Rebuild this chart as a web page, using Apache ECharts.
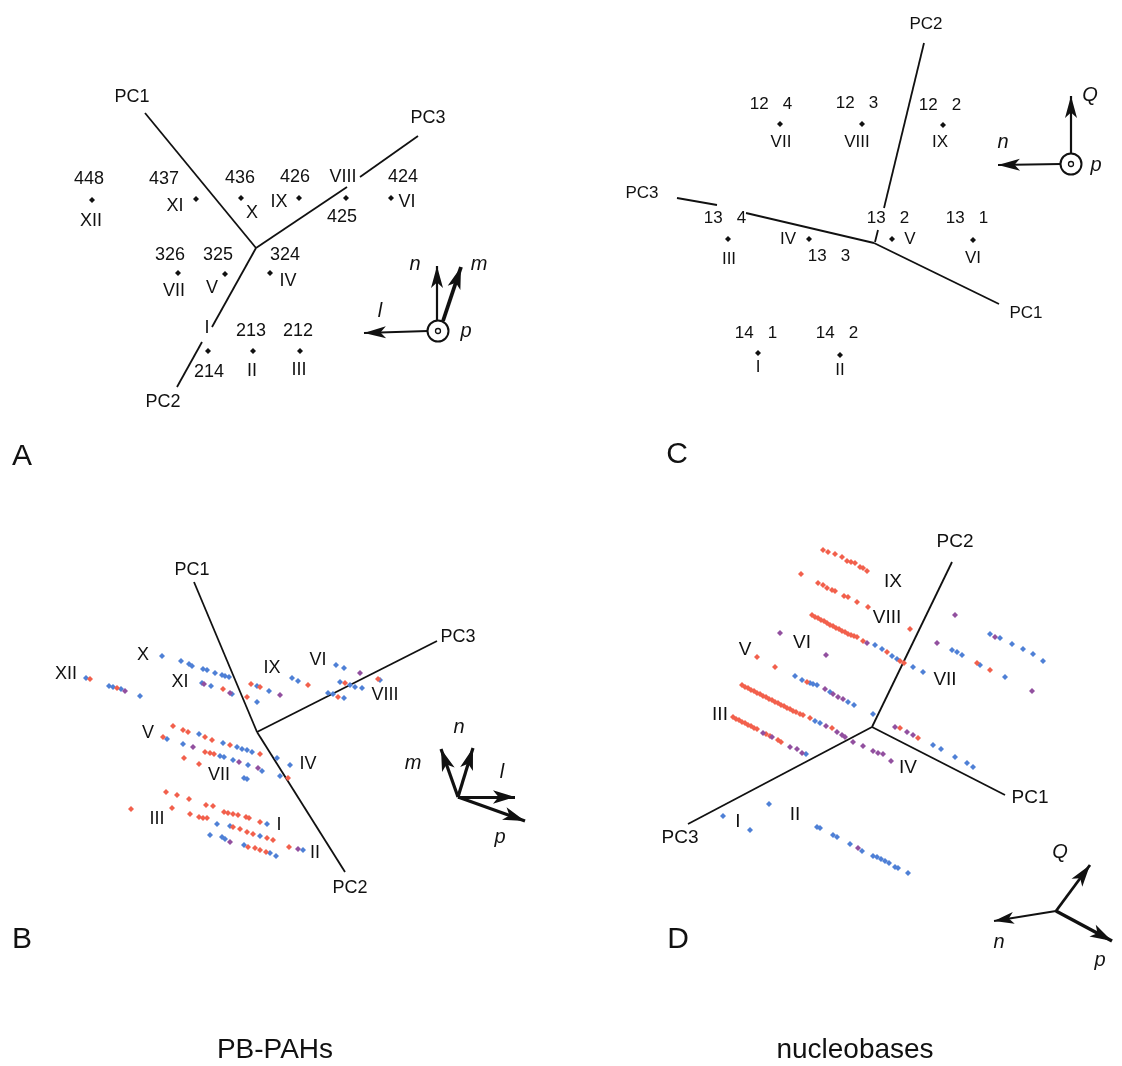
<!DOCTYPE html>
<html>
<head>
<meta charset="utf-8">
<script src="https://cdn.jsdelivr.net/npm/echarts@6/dist/echarts.min.js"></script>
<style>
  html, body { margin: 0; padding: 0; background: #fff; }
  #chart { width: 1122px; height: 1066px; }
</style>
</head>
<body>
<div id="chart"></div>
<script>
// ---------- Panel A: PB-PAH structures projected on PC1/PC2/PC3 ----------
const aAxes = [
  [[145, 113], [256, 248]],                         // PC1
  [[256, 248], [347, 187]], [[360, 177], [418, 136]], // PC3 (broken under VIII)
  [[256, 248], [212, 327]], [[202, 342], [177, 387]]  // PC2 (broken at I)
];
const aPoints = [
  [92, 200], [196, 199], [241, 198], [299, 198], [346, 198], [391, 198],
  [178, 273], [225, 274], [270, 273],
  [208, 351], [253, 351], [300, 351]
];
const aLabels = [
  [132, 97, 'PC1'], [428, 118, 'PC3'], [163, 402, 'PC2'],
  [89, 179, '448'], [91, 221, 'XII'],
  [164, 179, '437'], [175, 206, 'XI'],
  [240, 178, '436'], [252, 213, 'X'],
  [295, 177, '426'], [279, 202, 'IX'],
  [343, 177, 'VIII'], [342, 217, '425'],
  [403, 177, '424'], [407, 202, 'VI'],
  [170, 255, '326'], [174, 291, 'VII'],
  [218, 255, '325'], [212, 288, 'V'],
  [285, 255, '324'], [288, 281, 'IV'],
  [207, 328, 'I'], [209, 372, '214'],
  [251, 331, '213'], [252, 371, 'II'],
  [298, 331, '212'], [299, 370, 'III']
];
const aArrowsThin = [
  [[428, 331], [364, 333]],   // l
  [[437, 321], [437, 266]]    // n
];
const aArrowsBold = [
  [[443, 321], [461, 267]]    // m
];
const aAxisLabels = [[415, 264, 'n'], [479, 264, 'm'], [380, 311, 'l'], [466, 331, 'p']];
const aOrigin = [[438, 331]];

// ---------- Panel C: nucleobase structures ----------
const cAxes = [
  [[924, 43], [884, 208]], [[878, 230], [875, 242]], // PC2
  [[677, 198], [717, 205]], [[746, 213], [874, 243]], // PC3
  [[874, 243], [999, 304]]                            // PC1
];
const cPoints = [
  [780, 124], [862, 124], [943, 125],
  [728, 239], [809, 239], [892, 239], [973, 240],
  [758, 353], [840, 355]
];
const cLabels = [
  [926, 24, 'PC2'], [642, 193, 'PC3'], [1026, 313, 'PC1'],
  [771, 104, '12   4'], [781, 142, 'VII'],
  [857, 103, '12   3'], [857, 142, 'VIII'],
  [940, 105, '12   2'], [940, 142, 'IX'],
  [725, 218, '13   4'], [729, 259, 'III'],
  [788, 239, 'IV'], [829, 256, '13   3'],
  [888, 218, '13   2'], [910, 239, 'V'],
  [967, 218, '13   1'], [973, 258, 'VI'],
  [756, 333, '14   1'], [758, 367, 'I'],
  [837, 333, '14   2'], [840, 370, 'II']
];
const cArrows = [
  [[1071, 154], [1071, 96]],  // Q
  [[1061, 164], [998, 165]]   // n
];
const cAxisLabels = [[1090, 95, 'Q'], [1003, 142, 'n'], [1096, 165, 'p']];
const cOrigin = [[1071, 164]];

// ---------- Panel B: PB-PAH conformers ----------
const bAxes = [
  [[194, 582], [257, 732]], // PC1
  [[257, 732], [437, 641]], // PC3
  [[257, 732], [345, 872]]  // PC2
];
const bBlue = [
  [86, 678], [109, 686], [113, 687], [121, 689], [140, 696],
  [162, 656], [181, 661], [189, 664], [192, 666], [203, 669], [207, 670], [215, 673], [222, 675], [225, 676], [229, 677], [257, 686], [269, 691],
  [202, 683], [211, 686], [232, 694], [257, 702],
  [292, 678], [298, 681], [336, 665], [344, 668], [340, 682], [350, 685], [355, 687], [362, 688], [380, 680], [328, 693], [333, 694], [344, 698],
  [199, 734], [223, 743], [237, 747], [242, 749], [247, 750], [252, 752],
  [167, 739], [183, 744], [220, 756], [224, 757], [233, 760], [248, 765], [262, 771], [277, 758], [290, 765], [280, 776],
  [244, 778], [247, 779],
  [267, 824], [217, 824], [230, 826], [260, 836], [210, 835], [222, 837], [225, 839], [244, 845], [270, 853], [276, 856], [303, 850]
];
const bRed = [
  [90, 679], [117, 688], [251, 684], [260, 687], [223, 689], [247, 697], [308, 685], [345, 683], [378, 679], [338, 697],
  [173, 726], [183, 730], [188, 732], [205, 737], [212, 740], [230, 745], [260, 754],
  [163, 737], [205, 752], [210, 753], [214, 754], [288, 778],
  [184, 758], [199, 764],
  [166, 792], [177, 795], [189, 799], [206, 805], [213, 806], [224, 812], [228, 813], [233, 814], [238, 815], [246, 817], [249, 818], [260, 822],
  [131, 809], [172, 808], [190, 814], [199, 817], [203, 818], [207, 818], [233, 827], [240, 829], [247, 832], [253, 834], [267, 838], [273, 840],
  [248, 847], [255, 848], [260, 850], [266, 852], [289, 847]
];
const bPurple = [
  [125, 691], [280, 695], [204, 684], [230, 693], [360, 673], [193, 747], [239, 762], [258, 768], [230, 842], [298, 849]
];
const bLabels = [
  [192, 570, 'PC1'], [458, 637, 'PC3'], [350, 888, 'PC2'],
  [66, 674, 'XII'], [143, 655, 'X'], [180, 682, 'XI'], [272, 668, 'IX'], [318, 660, 'VI'], [385, 695, 'VIII'],
  [148, 733, 'V'], [219, 775, 'VII'], [308, 764, 'IV'],
  [157, 819, 'III'], [279, 825, 'I'], [315, 853, 'II']
];
const bArrows = [
  [[458, 797], [441, 749]], // m
  [[458, 797], [473, 748]], // n
  [[458, 797], [515, 797]], // l
  [[458, 797], [525, 821]]  // p
];
const bAxisLabels = [[413, 763, 'm'], [459, 727, 'n'], [502, 772, 'l'], [500, 837, 'p']];

// ---------- Panel D: nucleobase conformers ----------
const dAxes = [
  [[952, 562], [872, 727]],  // PC2
  [[872, 727], [688, 824]],  // PC3
  [[872, 727], [1005, 795]]  // PC1
];
const dRed = [
  [823, 550], [828, 552], [835, 554], [842, 557], [847, 561], [851, 562], [855, 563], [860, 567], [863, 568], [867, 571],
  [801, 574], [818, 583], [823, 585], [827, 588], [832, 590], [835, 591], [844, 596], [848, 597], [857, 602], [868, 607], [910, 629],
  [812, 615], [815, 617], [818, 618], [821, 620], [824, 621], [827, 623], [830, 625], [833, 626], [836, 628], [839, 629], [842, 631],
  [845, 632], [848, 634], [851, 635], [854, 636], [857, 637], [863, 641], [887, 652], [900, 661], [904, 663],
  [977, 663], [990, 670],
  [757, 657], [775, 667], [807, 682],
  [742, 685], [745, 687], [748, 688], [751, 690], [754, 691], [757, 693], [760, 694], [763, 696], [766, 697], [769, 699], [772, 700],
  [775, 702], [778, 703], [781, 705], [784, 706], [787, 708], [790, 709], [793, 711], [796, 712], [800, 714], [803, 715], [810, 718], [832, 728],
  [733, 717], [736, 719], [739, 720], [742, 722], [745, 723], [748, 725], [751, 726], [754, 728], [757, 729], [766, 734], [770, 736],
  [778, 740], [781, 742],
  [900, 728], [918, 738]
];
const dBlue = [
  [875, 645], [882, 649], [892, 656], [897, 659], [913, 667], [923, 672],
  [952, 650], [957, 652], [962, 655], [980, 665], [1005, 677],
  [990, 634], [1000, 638], [1012, 644], [1023, 649], [1033, 654], [1043, 661],
  [795, 676], [802, 680], [810, 683], [813, 684], [817, 685], [830, 692], [848, 702], [854, 705], [873, 714],
  [815, 721], [820, 723], [806, 754],
  [933, 745], [941, 749], [955, 757], [967, 763], [973, 767],
  [723, 816], [769, 804], [750, 830],
  [817, 827], [820, 828], [833, 835], [837, 837], [850, 844], [862, 851], [873, 856], [877, 857], [881, 859],
  [885, 861], [889, 863], [895, 867], [898, 868], [908, 873]
];
const dPurple = [
  [955, 615], [937, 643], [1032, 691], [995, 637], [780, 633], [826, 655], [867, 643],
  [825, 689], [833, 694], [838, 697], [843, 699],
  [826, 726], [837, 732], [842, 735], [845, 737], [853, 742], [863, 746], [873, 751], [878, 753], [883, 754], [891, 761],
  [763, 733], [772, 737], [790, 747], [797, 749], [802, 753],
  [895, 727], [907, 732], [913, 735],
  [858, 848]
];
const dLabels = [
  [955, 542, 'PC2'], [680, 838, 'PC3'], [1030, 798, 'PC1'],
  [893, 582, 'IX'], [887, 618, 'VIII'], [802, 643, 'VI'], [745, 650, 'V'], [945, 680, 'VII'],
  [720, 715, 'III'], [908, 768, 'IV'], [738, 822, 'I'], [795, 815, 'II']
];
const dArrowN = [[[1056, 911], [994, 921]]];
const dArrowQ = [[[1056, 911], [1090, 865]]];
const dArrowP = [[[1056, 911], [1112, 941]]];
const dAxisLabels = [[1060, 852, 'Q'], [999, 942, 'n'], [1100, 960, 'p']];

// ---------- Figure captions ----------
const panelLetters = [[22, 457, 'A'], [677, 455, 'C'], [22, 940, 'B'], [678, 940, 'D']];
const captions = [[275, 1050, 'PB-PAHs'], [855, 1050, 'nucleobases']];

// ---------- drawing helpers ----------
const FONT = '"Liberation Sans", Arial, Helvetica, sans-serif';
const INK = '#111111';
const BLUE = '#4f80d6';
const RED = '#f2604c';
const PURPLE = '#92509f';

// four panel cartesian systems (A top-left, B bottom-left, C top-right, D bottom-right)
const panelRanges = [
  { x: [0, 561], y: [0, 533] },
  { x: [0, 561], y: [533, 1066] },
  { x: [561, 1122], y: [0, 533] },
  { x: [561, 1122], y: [533, 1066] }
];
const A = 0, B = 1, C = 2, D = 3;

const grids = panelRanges.map(r => ({
  left: r.x[0], top: r.y[0], width: r.x[1] - r.x[0], height: r.y[1] - r.y[0],
  show: false, containLabel: false
}));
const xAxes = panelRanges.map((r, i) => ({ type: 'value', gridIndex: i, min: r.x[0], max: r.x[1], show: false }));
const yAxes = panelRanges.map((r, i) => ({ type: 'value', gridIndex: i, min: r.y[0], max: r.y[1], inverse: true, show: false }));

function segments(g, segs, width) {
  return {
    type: 'lines', coordinateSystem: 'cartesian2d', xAxisIndex: g, yAxisIndex: g,
    silent: true, z: 2, symbol: 'none',
    lineStyle: { color: INK, width: width, opacity: 1, curveness: 0 },
    data: segs.map(s => ({ coords: s }))
  };
}
function arrows(g, segs, width, head) {
  return {
    type: 'lines', coordinateSystem: 'cartesian2d', xAxisIndex: g, yAxisIndex: g,
    silent: true, z: 3, symbol: ['none', 'arrow'], symbolSize: [1, head],
    lineStyle: { color: INK, width: width, opacity: 1, curveness: 0 },
    data: segs.map(s => ({ coords: s }))
  };
}
function points(g, pts, color, size) {
  return {
    type: 'scatter', xAxisIndex: g, yAxisIndex: g, silent: true, z: 4,
    symbol: 'diamond', symbolSize: size, itemStyle: { color: color, opacity: 1 },
    data: pts
  };
}
function texts(g, items, size, italic) {
  return {
    type: 'scatter', xAxisIndex: g, yAxisIndex: g, silent: true, z: 6,
    symbolSize: 1, itemStyle: { color: 'rgba(255,255,255,0)', opacity: 1 },
    label: {
      show: true, position: 'inside', formatter: '{b}', color: INK, opacity: 1,
      textBorderWidth: 0,
      fontSize: size, fontFamily: FONT, fontStyle: italic ? 'italic' : 'normal',
      align: 'center', verticalAlign: 'middle'
    },
    data: items.map(([x, y, t]) => ({ name: t, value: [x, y] }))
  };
}
function originMark(g, pos) {
  return [
    {
      type: 'scatter', xAxisIndex: g, yAxisIndex: g, silent: true, z: 7,
      symbol: 'circle', symbolSize: 21,
      itemStyle: { color: '#fff', borderColor: INK, borderWidth: 2, opacity: 1 },
      data: pos
    },
    {
      type: 'scatter', xAxisIndex: g, yAxisIndex: g, silent: true, z: 8,
      symbol: 'circle', symbolSize: 5,
      itemStyle: { color: '#fff', borderColor: INK, borderWidth: 1.3, opacity: 1 },
      data: pos
    }
  ];
}

const series = [
  // A
  segments(A, aAxes, 1.8),
  points(A, aPoints, INK, 6),
  texts(A, aLabels, 18, false),
  arrows(A, aArrowsThin, 2.2, [9, 22]),
  arrows(A, aArrowsBold, 3.8, [10, 22]),
  ...originMark(A, aOrigin),
  texts(A, aAxisLabels, 20, true),
  // C
  segments(C, cAxes, 1.8),
  points(C, cPoints, INK, 6),
  texts(C, cLabels, 17, false),
  arrows(C, cArrows, 2.2, [9, 22]),
  ...originMark(C, cOrigin),
  texts(C, cAxisLabels, 20, true),
  // B
  segments(B, bAxes, 1.8),
  points(B, bBlue, BLUE, 6),
  points(B, bRed, RED, 6),
  points(B, bPurple, PURPLE, 6),
  texts(B, bLabels, 18, false),
  arrows(B, bArrows, 3.2, [10, 22]),
  texts(B, bAxisLabels, 20, true),
  // D
  segments(D, dAxes, 1.8),
  points(D, dBlue, BLUE, 6),
  points(D, dRed, RED, 6),
  points(D, dPurple, PURPLE, 6),
  texts(D, dLabels, 19, false),
  arrows(D, dArrowN, 1.8, [9, 20]),
  arrows(D, dArrowQ, 2.8, [10, 22]),
  arrows(D, dArrowP, 3.4, [10, 22]),
  texts(D, dAxisLabels, 20, true)
];

const graphic = [
  ...panelLetters.map(([x, y, t]) => ({
    type: 'text', x: x, y: y,
    style: { text: t, font: '30px ' + FONT, fill: INK, textAlign: 'center', textVerticalAlign: 'middle' }
  })),
  ...captions.map(([x, y, t]) => ({
    type: 'text', x: x, y: y,
    style: { text: t, font: '28px ' + FONT, fill: INK, textAlign: 'center', textVerticalAlign: 'middle' }
  }))
];

const chart = echarts.init(document.getElementById('chart'), null, { renderer: 'canvas' });
chart.setOption({
  animation: false,
  backgroundColor: '#fff',
  grid: grids,
  xAxis: xAxes,
  yAxis: yAxes,
  graphic: graphic,
  series: series
});
</script>
</body>
</html>
